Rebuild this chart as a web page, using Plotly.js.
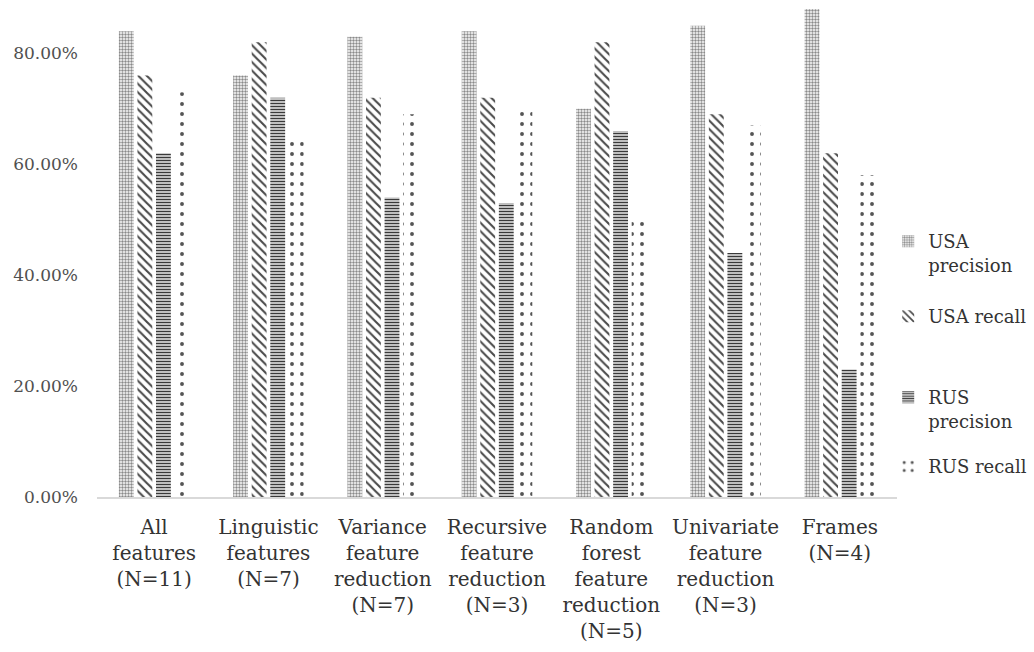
<!DOCTYPE html>
<html>
<head>
<meta charset="utf-8">
<script src="https://cdn.plot.ly/plotly-3.0.1.min.js"></script>
<style>html,body{margin:0;padding:0;background:#fff;}#chart{width:1034px;height:652px;}</style>
</head>
<body>
<div id="chart"></div>
<script>
const categories = [
  "All<br>features<br>(N=11)",
  "Linguistic<br>features<br>(N=7)",
  "Variance<br>feature<br>reduction<br>(N=7)",
  "Recursive<br>feature<br>reduction<br>(N=3)",
  "Random<br>forest<br>feature<br>reduction<br>(N=5)",
  "Univariate<br>feature<br>reduction<br>(N=3)",
  "Frames<br>(N=4)"
];
const seriesNames = ["USA<br>precision", "USA recall", "RUS<br>precision", "RUS recall"];
const usaPrecision = [0.84, 0.76, 0.83, 0.84, 0.70, 0.85, 0.88];
const usaRecall    = [0.76, 0.82, 0.72, 0.72, 0.82, 0.69, 0.62];
const rusPrecision = [0.62, 0.72, 0.54, 0.53, 0.66, 0.44, 0.23];
const rusRecall    = [0.73, 0.64, 0.69, 0.70, 0.50, 0.67, 0.58];

const values = [usaPrecision, usaRecall, rusPrecision, rusRecall];
const patterns = [
  {shape: ".", size: 3, solidity: 0.5, fgcolor: "#8a8a8a", bgcolor: "#ffffff"},
  {shape: "\\", size: 6, solidity: 0.35, fgcolor: "#4a4a4a", bgcolor: "#ffffff"},
  {shape: "-", size: 3, solidity: 0.55, fgcolor: "#3a3a3a", bgcolor: "#ffffff"},
  {shape: ".", size: 10, solidity: 0.12, fgcolor: "#555555", bgcolor: "#ffffff"}
];
const legendIds = ["legend", "legend2", "legend3", "legend4"];

const traces = values.map((v, i) => ({
  type: "bar",
  x: categories,
  y: v,
  name: seriesNames[i],
  legend: legendIds[i],
  marker: {color: "#ffffff", pattern: patterns[i], line: {width: 0}},
  hoverinfo: "skip"
}));

const legFont = {family: "DejaVu Serif, serif", size: 18, color: "#333333"};
function leg(y) {
  return {x: 0.989, xanchor: "left", y: y, yanchor: "middle", font: legFont,
          bgcolor: "rgba(0,0,0,0)", borderwidth: 0, valign: "top", itemwidth: 30};
}

const layout = {
  width: 1034, height: 652,
  margin: {l: 97, r: 137, t: 9, b: 155, autoexpand: false},
  paper_bgcolor: "#ffffff", plot_bgcolor: "#ffffff",
  barmode: "group", bargap: 0.35, bargroupgap: 0.2,
  font: {family: "DejaVu Serif, serif", color: "#333333"},
  xaxis: {
    showgrid: false, zeroline: false, showline: true, linecolor: "#d9d9d9", linewidth: 1.5,
    ticks: "", tickfont: {family: "DejaVu Serif, serif", size: 20, color: "#333333"},
    ticklabelstandoff: 11, tickangle: 0, automargin: false
  },
  yaxis: {
    range: [0, 0.88], dtick: 0.2, tick0: 0, tickformat: ".2%",
    showgrid: false, zeroline: false, showline: false, ticks: "",
    tickfont: {family: "DejaVu Serif, serif", size: 17, color: "#505050"},
    ticklabelstandoff: 18, automargin: false
  },
  showlegend: true,
  legend: leg(0.50),
  legend2: leg(0.37),
  legend3: leg(0.18),
  legend4: leg(0.062)
};

Plotly.newPlot("chart", traces, layout, {displayModeBar: false, staticPlot: true});
</script>
</body>
</html>
